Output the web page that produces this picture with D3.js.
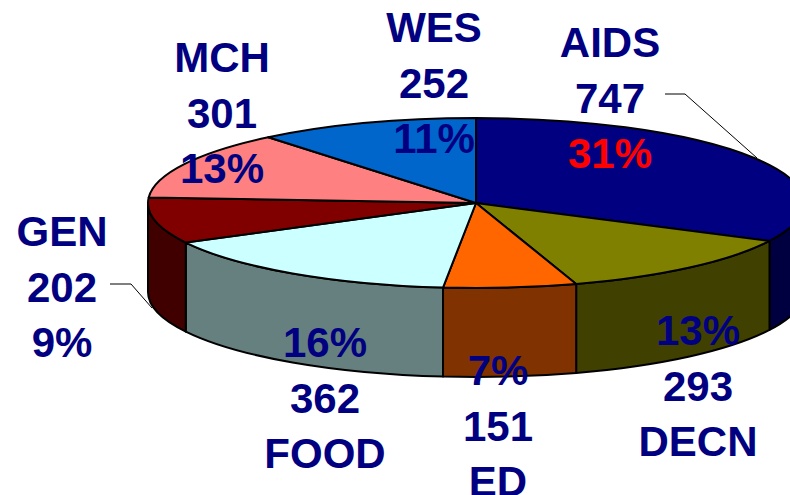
<!DOCTYPE html>
<html>
<head>
<meta charset="utf-8">
<script src="https://cdn.jsdelivr.net/npm/d3@7/dist/d3.min.js"></script>
<style>
  html, body { margin: 0; padding: 0; background: #fff; overflow: hidden; }
  text { font-family: "Liberation Sans", Arial, sans-serif; font-weight: bold; font-size: 42px; fill: #000080; text-anchor: middle; }
</style>
</head>
<body>
<div class="canvas"></div>
<script>
const categories = ["AIDS", "DECN", "ED", "FOOD", "GEN", "MCH", "WES"];
const amounts = [747, 293, 151, 362, 202, 301, 252];
const percents = ["31%", "13%", "7%", "16%", "9%", "13%", "11%"];
const topColors = ["#000080", "#808000", "#FF6600", "#CCFFFF", "#800000", "#FF8080", "#0066CC"];
const sideColors = ["#000040", "#404000", "#803300", "#668080", "#400000", "#803F3F", "#003366"];

const svgWidth = 790;
const svgHeight = 495;

// the tilted pie: an ellipse with a wall below it
const cx = 476, cy = 203, rx = 328, ry = 85, depth = 89;

// where each label block sits (x centre, first baseline), and which way round it reads
const labelPlace = {
  AIDS: {x: 610, y: 57, order: "nvp"},
  DECN: {x: 698, y: 345, order: "pvn"},
  ED:   {x: 498, y: 385, order: "pvn"},
  FOOD: {x: 325, y: 357, order: "pvn"},
  GEN:  {x: 62, y: 246, order: "nvp"},
  MCH:  {x: 222, y: 72, order: "nvp"},
  WES:  {x: 434, y: 42, order: "nvp"}
};
const lineGap = 55.5;

const svg = d3.select('.canvas')
  .append('svg')
    .attr('width', svgWidth)
    .attr('height', svgHeight)
    .style('display', 'block');

const slices = d3.pie().sort(null).value(d => d)(amounts);

const px = a => cx + rx * Math.sin(a);
const py = a => cy - ry * Math.cos(a);

// wall of a slice, only the part that faces the viewer (90deg to 270deg from the top)
function wallPath(s) {
  const a0 = Math.max(s.startAngle, Math.PI / 2);
  const a1 = Math.min(s.endAngle, Math.PI * 1.5);
  if (a1 <= a0) return null;
  return `M${px(a0)},${py(a0)}`
    + `A${rx},${ry} 0 0 1 ${px(a1)},${py(a1)}`
    + `L${px(a1)},${py(a1) + depth}`
    + `A${rx},${ry} 0 0 0 ${px(a0)},${py(a0) + depth}Z`;
}

// top of a slice
function topPath(s) {
  return `M${cx},${cy}L${px(s.startAngle)},${py(s.startAngle)}`
    + `A${rx},${ry} 0 ${s.endAngle - s.startAngle > Math.PI ? 1 : 0} 1 ${px(s.endAngle)},${py(s.endAngle)}Z`;
}

svg.append('g').selectAll('path')
  .data(slices.filter(wallPath))
  .join('path')
    .attr('d', wallPath)
    .attr('fill', d => sideColors[d.index])
    .attr('stroke', '#000')
    .attr('stroke-width', 2)
    .attr('stroke-linejoin', 'round');

svg.append('g').selectAll('path')
  .data(slices)
  .join('path')
    .attr('d', topPath)
    .attr('fill', d => topColors[d.index])
    .attr('stroke', '#000')
    .attr('stroke-width', 2)
    .attr('stroke-linejoin', 'round');

// leader lines for AIDS and GEN
const leader = d3.line();
svg.append('g').selectAll('path')
  .data([[[665, 94], [685, 94], [757, 158]], [[110, 284], [131, 284], [152, 308]]])
  .join('path')
    .attr('d', leader)
    .attr('fill', 'none')
    .attr('stroke', '#000')
    .attr('stroke-width', 1);

// labels
const labels = svg.append('g');
categories.forEach((name, i) => {
  const place = labelPlace[name];
  const parts = {n: name, v: amounts[i], p: percents[i]};
  place.order.split('').forEach((key, j) => {
    labels.append('text')
      .attr('x', place.x)
      .attr('y', place.y + j * lineGap)
      .style('fill', key === 'p' && name === 'AIDS' ? '#FF0000' : null)
      .text(parts[key]);
  });
});
</script>
</body>
</html>
